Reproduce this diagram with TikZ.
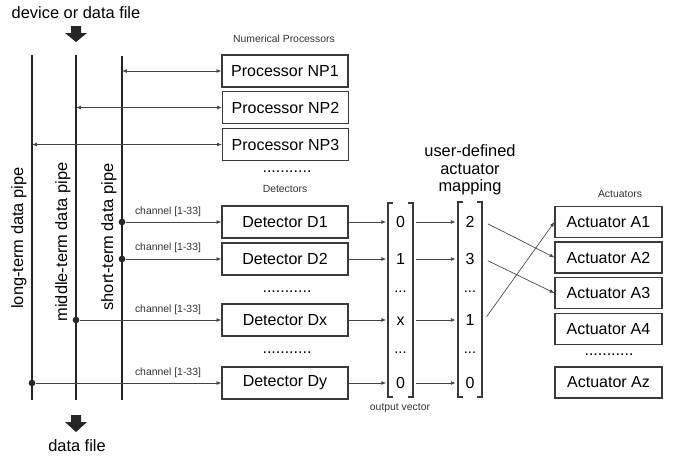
\documentclass[tikz,border=0pt]{standalone}
\usepackage{fontspec}
\setmainfont{Liberation Sans}
\usetikzlibrary{arrows.meta}
\definecolor{ln}{HTML}{444444}
\definecolor{bx}{HTML}{3A3A3A}
\tikzset{
  box/.style={draw=bx, line width=0.9pt, minimum width=94.5pt, minimum height=24pt, inner sep=0pt, font=\fontsize{12}{14}\selectfont},
  actbox/.style={box, minimum width=80.25pt, minimum height=23.25pt},
  small/.style={font=\fontsize{7.8}{9}\selectfont, text=black!80},
  big/.style={font=\fontsize{12.3}{14}\selectfont},
  pipe/.style={line width=2pt, draw=black!85},
  conn/.style={draw=ln, line width=0.5pt, -{Latex[length=3.6pt,width=2.8pt]}},
  bconn/.style={draw=ln, line width=0.5pt, {Latex[length=3.6pt,width=2.8pt]}-{Latex[length=3.6pt,width=2.8pt]}},
  val/.style={inner sep=0pt, minimum width=21pt, text height=8.6pt, text depth=0pt, font=\fontsize{12}{14}\selectfont},
  dotsv/.style={inner sep=0pt, minimum width=21pt, font=\fontsize{11}{14}\selectfont},
  dotrow/.style={inner sep=0pt, font=\fontsize{12}{14}\selectfont},
  brk/.style={draw=bx, line width=0.9pt},
  blk/.style={fill=black!85, draw=none},
  jdot/.style={circle, fill=black!85, inner sep=0pt, minimum size=5pt}
}
\begin{document}
\begin{tikzpicture}[x=0.75pt,y=-0.75pt]
\useasboundingbox (0,0) rectangle (689,457);

% top / bottom labels and block arrows
\node[big] (devtxt) at (76,13) {device or data file};
\node[big] (dftxt) at (77,446) {data file};
\fill[blk] (71,26) -- (81,26) -- (81,33) -- (87,33) -- (76,42) -- (65,33) -- (71,33) -- cycle;
\fill[blk] (71,415) -- (81,415) -- (81,422) -- (87,422) -- (76,432) -- (65,422) -- (71,422) -- cycle;

% pipes
\coordinate (Lt) at (32,55);  \coordinate (Lb) at (32,400);
\coordinate (Mt) at (76,55);  \coordinate (Mb) at (76,400);
\coordinate (St) at (122,56); \coordinate (Sb) at (122,400);
\draw[pipe] (Lt) -- (Lb);
\draw[pipe] (Mt) -- (Mb);
\draw[pipe] (St) -- (Sb);
\node[big, rotate=90] (ltxt) at (19,238) {long-term data pipe};
\node[big, rotate=90] (mtxt) at (63,242) {middle-term data pipe};
\node[big, rotate=90] (stxt) at (109,237) {short-term data pipe};

% processors
\node[small] (nptitle) at (284,39) {Numerical Processors};
\node[box] (NP1) at (285,71) {Processor NP1};
\node[box] (NP2) at (285.5,107.5) {Processor NP2};
\node[box] (NP3) at (285.5,144.5) {Processor NP3};
\node[dotrow] (npdots) at (287,172) {...........};
\draw[bconn] (St |- NP1.west) -- (NP1.west);
\draw[bconn] (Mt |- NP2.west) -- (NP2.west);
\draw[bconn] (Lt |- NP3.west) -- (NP3.west);

% detectors
\node[small] (dtitle) at (285,189) {Detectors};
\node[box] (D1) at (285,222) {Detector D1};
\node[box] (D2) at (285,259) {Detector D2};
\node[dotrow] (dd1) at (287,292) {...........};
\node[box] (Dx) at (285,320) {Detector Dx};
\node[dotrow] (dd2) at (287,353) {...........};
\node[box] (Dy) at (285,383) {Detector Dy};

\node[jdot] (j1) at (St |- D1.west) {};
\node[jdot] (j2) at (St |- D2.west) {};
\node[jdot] (j3) at (Mt |- Dx.west) {};
\node[jdot] (j4) at (Lt |- Dy.west) {};
\draw[conn] (j1) -- (D1.west);
\draw[conn] (j2) -- (D2.west);
\draw[conn] (j3) -- (Dx.west);
\draw[conn] (j4) -- (Dy.west);
\node[small] (c1) at (168,212) {channel [1-33]};
\node[small] (c2) at (168,248) {channel [1-33]};
\node[small] (c3) at (168,310) {channel [1-33]};
\node[small] (c4) at (168,373) {channel [1-33]};

% output vector
\draw[brk] (393,203) -- (388,203) -- (388,397) -- (393,397);
\draw[brk] (408,203) -- (413,203) -- (413,397) -- (408,397);
\node[val] (v1) at (400.5,222) {0};
\node[val] (v2) at (400.5,259) {1};
\node[dotsv] (v3) at (400.5,292) {...};
\node[val] (v4) at (400.5,320) {x};
\node[dotsv] (v5) at (400.5,353) {...};
\node[val] (v6) at (400.5,383) {0};
\node[small] (ovtxt) at (400,408) {output vector};
\draw[conn] (D1.east) -- (v1.west);
\draw[conn] (D2.east) -- (v2.west);
\draw[conn] (Dx.east) -- (v4.west);
\draw[conn] (Dy.east) -- (v6.west);

% mapping vector
\node[big, align=center] (maptxt) at (470,170) {user-defined\\[-1pt]actuator\\[-1pt]mapping};
\draw[brk] (463,202) -- (458,202) -- (458,397) -- (463,397);
\draw[brk] (477,202) -- (482,202) -- (482,397) -- (477,397);
\node[val] (m1) at (470,222) {2};
\node[val] (m2) at (470,259) {3};
\node[dotsv] (m3) at (470,292) {...};
\node[val] (m4) at (470,320) {1};
\node[dotsv] (m5) at (470,353) {...};
\node[val] (m6) at (470,383) {0};
\draw[conn, shorten <=1pt] (v1.east) -- (m1.west);
\draw[conn, shorten <=1pt] (v2.east) -- (m2.west);
\draw[conn, shorten <=1pt] (v4.east) -- (m4.west);
\draw[conn, shorten <=1pt] (v6.east) -- (m6.west);

% actuators
\node[small] (atitle) at (620,194) {Actuators};
\node[actbox] (A1) at (608.5,222) {Actuator A1};
\node[actbox] (A2) at (608.5,257.5) {Actuator A2};
\node[actbox] (A3) at (608.5,293) {Actuator A3};
\node[actbox] (A4) at (608.5,329) {Actuator A4};
\node[dotrow] (adots) at (609,355) {...........};
\node[actbox] (Az) at (608.5,382.5) {Actuator Az};

\draw[conn, shorten <=3pt] (m1.east) -- (A2.west);
\draw[conn, shorten <=3pt] (m2.east) -- (A3.west);
\draw[conn, shorten <=3pt] (m4.east) -- (A1.west);
\end{tikzpicture}
\end{document}
